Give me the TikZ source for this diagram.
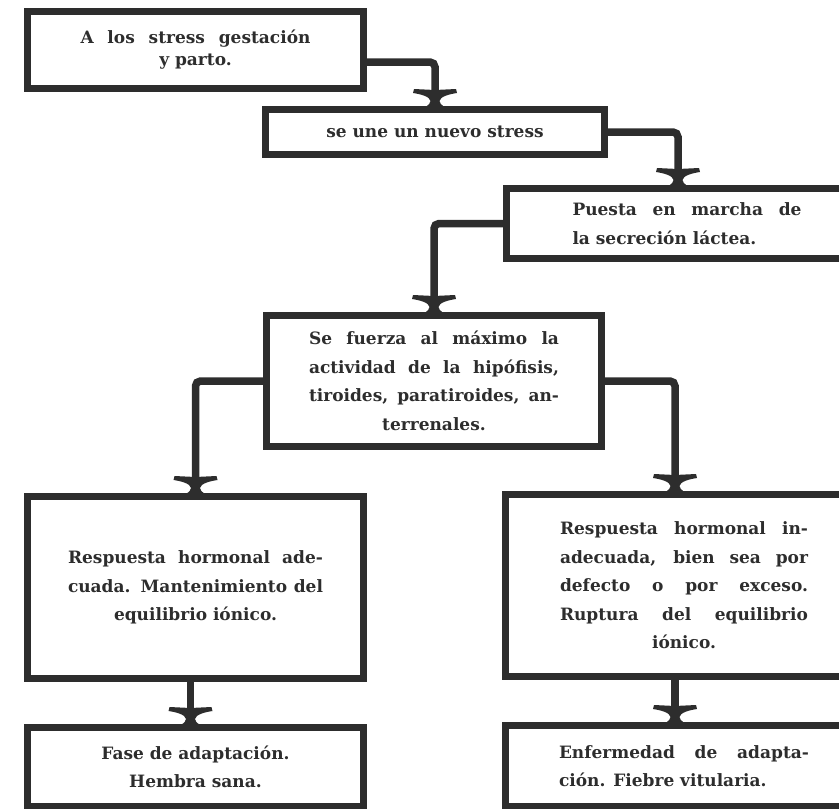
\documentclass[tikz,border=0pt]{standalone}
\usepackage{fontspec}
\setmainfont{DejaVu Serif}
\usetikzlibrary{positioning,arrows.meta}
\definecolor{ink}{RGB}{45,45,45}
\newcommand{\cardfont}{\bfseries\fontsize{17}{28.5}\selectfont\tolerance=10000\hbadness=10000\relax}
\newcommand{\midline}{\hspace*{0pt plus 1fil}}

% flared arrow head of the scanned chart
\pgfdeclarearrow{
  name = Flare,
  setup code = {
    \pgfarrowssettipend{0pt}
    \pgfarrowssetlineend{-7pt}
    \pgfarrowssetbackend{-17pt}
    \pgfarrowsupperhullpoint{-17pt}{22pt}
    \pgfarrowsupperhullpoint{2pt}{11pt}
  },
  drawing code = {
    \pgfpathmoveto{\pgfqpoint{2pt}{11pt}}
    \pgfpathcurveto{\pgfqpoint{-1.5pt}{5.5pt}}{\pgfqpoint{-3.5pt}{4.5pt}}{\pgfqpoint{-5pt}{4.5pt}}
    \pgfpathcurveto{\pgfqpoint{-9.5pt}{5pt}}{\pgfqpoint{-12pt}{15pt}}{\pgfqpoint{-13pt}{22pt}}
    \pgfpathlineto{\pgfqpoint{-17pt}{21pt}}
    \pgfpathlineto{\pgfqpoint{-16pt}{0pt}}
    \pgfpathlineto{\pgfqpoint{-17pt}{-21pt}}
    \pgfpathlineto{\pgfqpoint{-13pt}{-22pt}}
    \pgfpathcurveto{\pgfqpoint{-12pt}{-15pt}}{\pgfqpoint{-9.5pt}{-5pt}}{\pgfqpoint{-5pt}{-4.5pt}}
    \pgfpathcurveto{\pgfqpoint{-3.5pt}{-4.5pt}}{\pgfqpoint{-1.5pt}{-5.5pt}}{\pgfqpoint{2pt}{-11pt}}
    \pgfpathclose
    \pgfusepathqfill
  }
}

\begin{document}
\begin{tikzpicture}[x=1pt, y=-1pt]
    \tikzstyle{card} = [draw=ink, line width=7pt, rectangle, inner sep=0pt, font=\cardfont, text=ink, align=justify]
    \tikzstyle{link} = [draw=ink, line width=7.5pt, rounded corners=5pt, -{Flare}]

    \useasboundingbox (0,0) rectangle (839,809);
    \clip (0,0) rectangle (839,809);

    \node [card, minimum width=336pt, minimum height=77pt, text width=230pt, font={\cardfont\fontsize{17}{22}\selectfont}] (s1) at (195.5,50) {A los stress gestación\linebreak\midline y parto.};
    \node [card, below right=14pt and -105pt of s1, minimum width=339pt, minimum height=45pt, align=center] (s2) {se une un nuevo stress};
    \node [card, below right=27pt and -105pt of s2, minimum width=361pt, minimum height=70pt, text width=229pt] (p3) {Puesta en marcha de\linebreak la secreción láctea.};
    \node [card, below left=50pt and -102pt of p3, minimum width=335pt, minimum height=131pt, text width=250pt] (p4) {Se fuerza al máximo la\linebreak actividad de la hipófisis,\linebreak tiroides, paratiroides, an-\linebreak\midline terrenales.};
    \node [card, below left=43pt and -104pt of p4, minimum width=336pt, minimum height=182pt, text width=255pt] (ok) {Respuesta hormonal ade-\linebreak cuada. Mantenimiento del\linebreak\midline equilibrio iónico.};
    \node [card, below right=41pt and -103pt of p4, minimum width=357pt, minimum height=182pt, text width=248pt] (ko) {Respuesta hormonal in-\linebreak adecuada, bien sea por\linebreak defecto o por exceso.\linebreak Ruptura del equilibrio\linebreak\midline iónico.};
    \node [card, below=42pt of ok, minimum width=336pt, minimum height=79pt, align=center] (sana) {Fase de adaptación.\\Hembra sana.};
    \node [card, below=42pt of ko, minimum width=357pt, minimum height=81pt, text width=250pt] (fiebre) {Enfermedad de adapta-\linebreak ción. Fiebre vitularia.};

    \draw [link] ([yshift=-12pt]s1.east) -| (s2.north);
    \draw [link] (s2.east) -| ([xshift=-9pt]p3.north);
    \draw [link] (p3.west) -| (p4.north);
    \draw [link] (p4.west) -| (ok.north);
    \draw [link] (p4.east) -| ([xshift=-9pt]ko.north);
    \draw [link] ([xshift=-5pt]ok.south) -- ([xshift=-5pt]sana.north);
    \draw [link] ([xshift=-9pt]ko.south) -- ([xshift=-9pt]fiebre.north);
\end{tikzpicture}
\end{document}
